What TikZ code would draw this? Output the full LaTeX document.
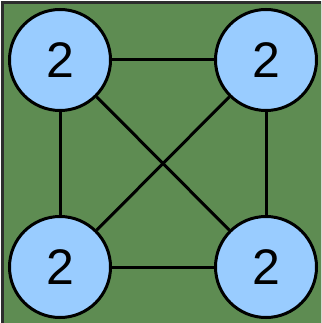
\documentclass[tikz,border=0pt]{standalone}
\usepackage{fontspec}
\setmainfont{Liberation Sans}
\usetikzlibrary{positioning}

\definecolor{bggreen}{RGB}{94,140,82}
\definecolor{nodeblue}{RGB}{153,204,255}
\definecolor{framegray}{RGB}{45,45,45}

\begin{document}
\begin{tikzpicture}[x=1pt,y=-1pt]
  \useasboundingbox (0,0) rectangle (321,323);
  \clip (0,0) rectangle (321,323);
  \fill[framegray] (1,1) rectangle (330,330);
  \fill[bggreen] (4,4) rectangle (330,330);

  \tikzset{vert/.style={circle,draw,line width=3pt,fill=nodeblue,minimum size=101pt,inner sep=0pt,font=\fontsize{50}{50}\selectfont}}

  \node[vert] (v1) at (60,60) {2};
  \node[vert, right = 102pt of v1] (v2) {2};
  \node[vert, below = 103pt of v1] (v3) {2};
  \node[vert, below = 103pt of v2] (v4) {2};

  \draw[line width=3pt] (v1) -- (v2);
  \draw[line width=3pt] (v1) -- (v3);
  \draw[line width=3pt] (v1) -- (v4);
  \draw[line width=3pt] (v2) -- (v3);
  \draw[line width=3pt] (v2) -- (v4);
  \draw[line width=3pt] (v3) -- (v4);
\end{tikzpicture}
\end{document}
